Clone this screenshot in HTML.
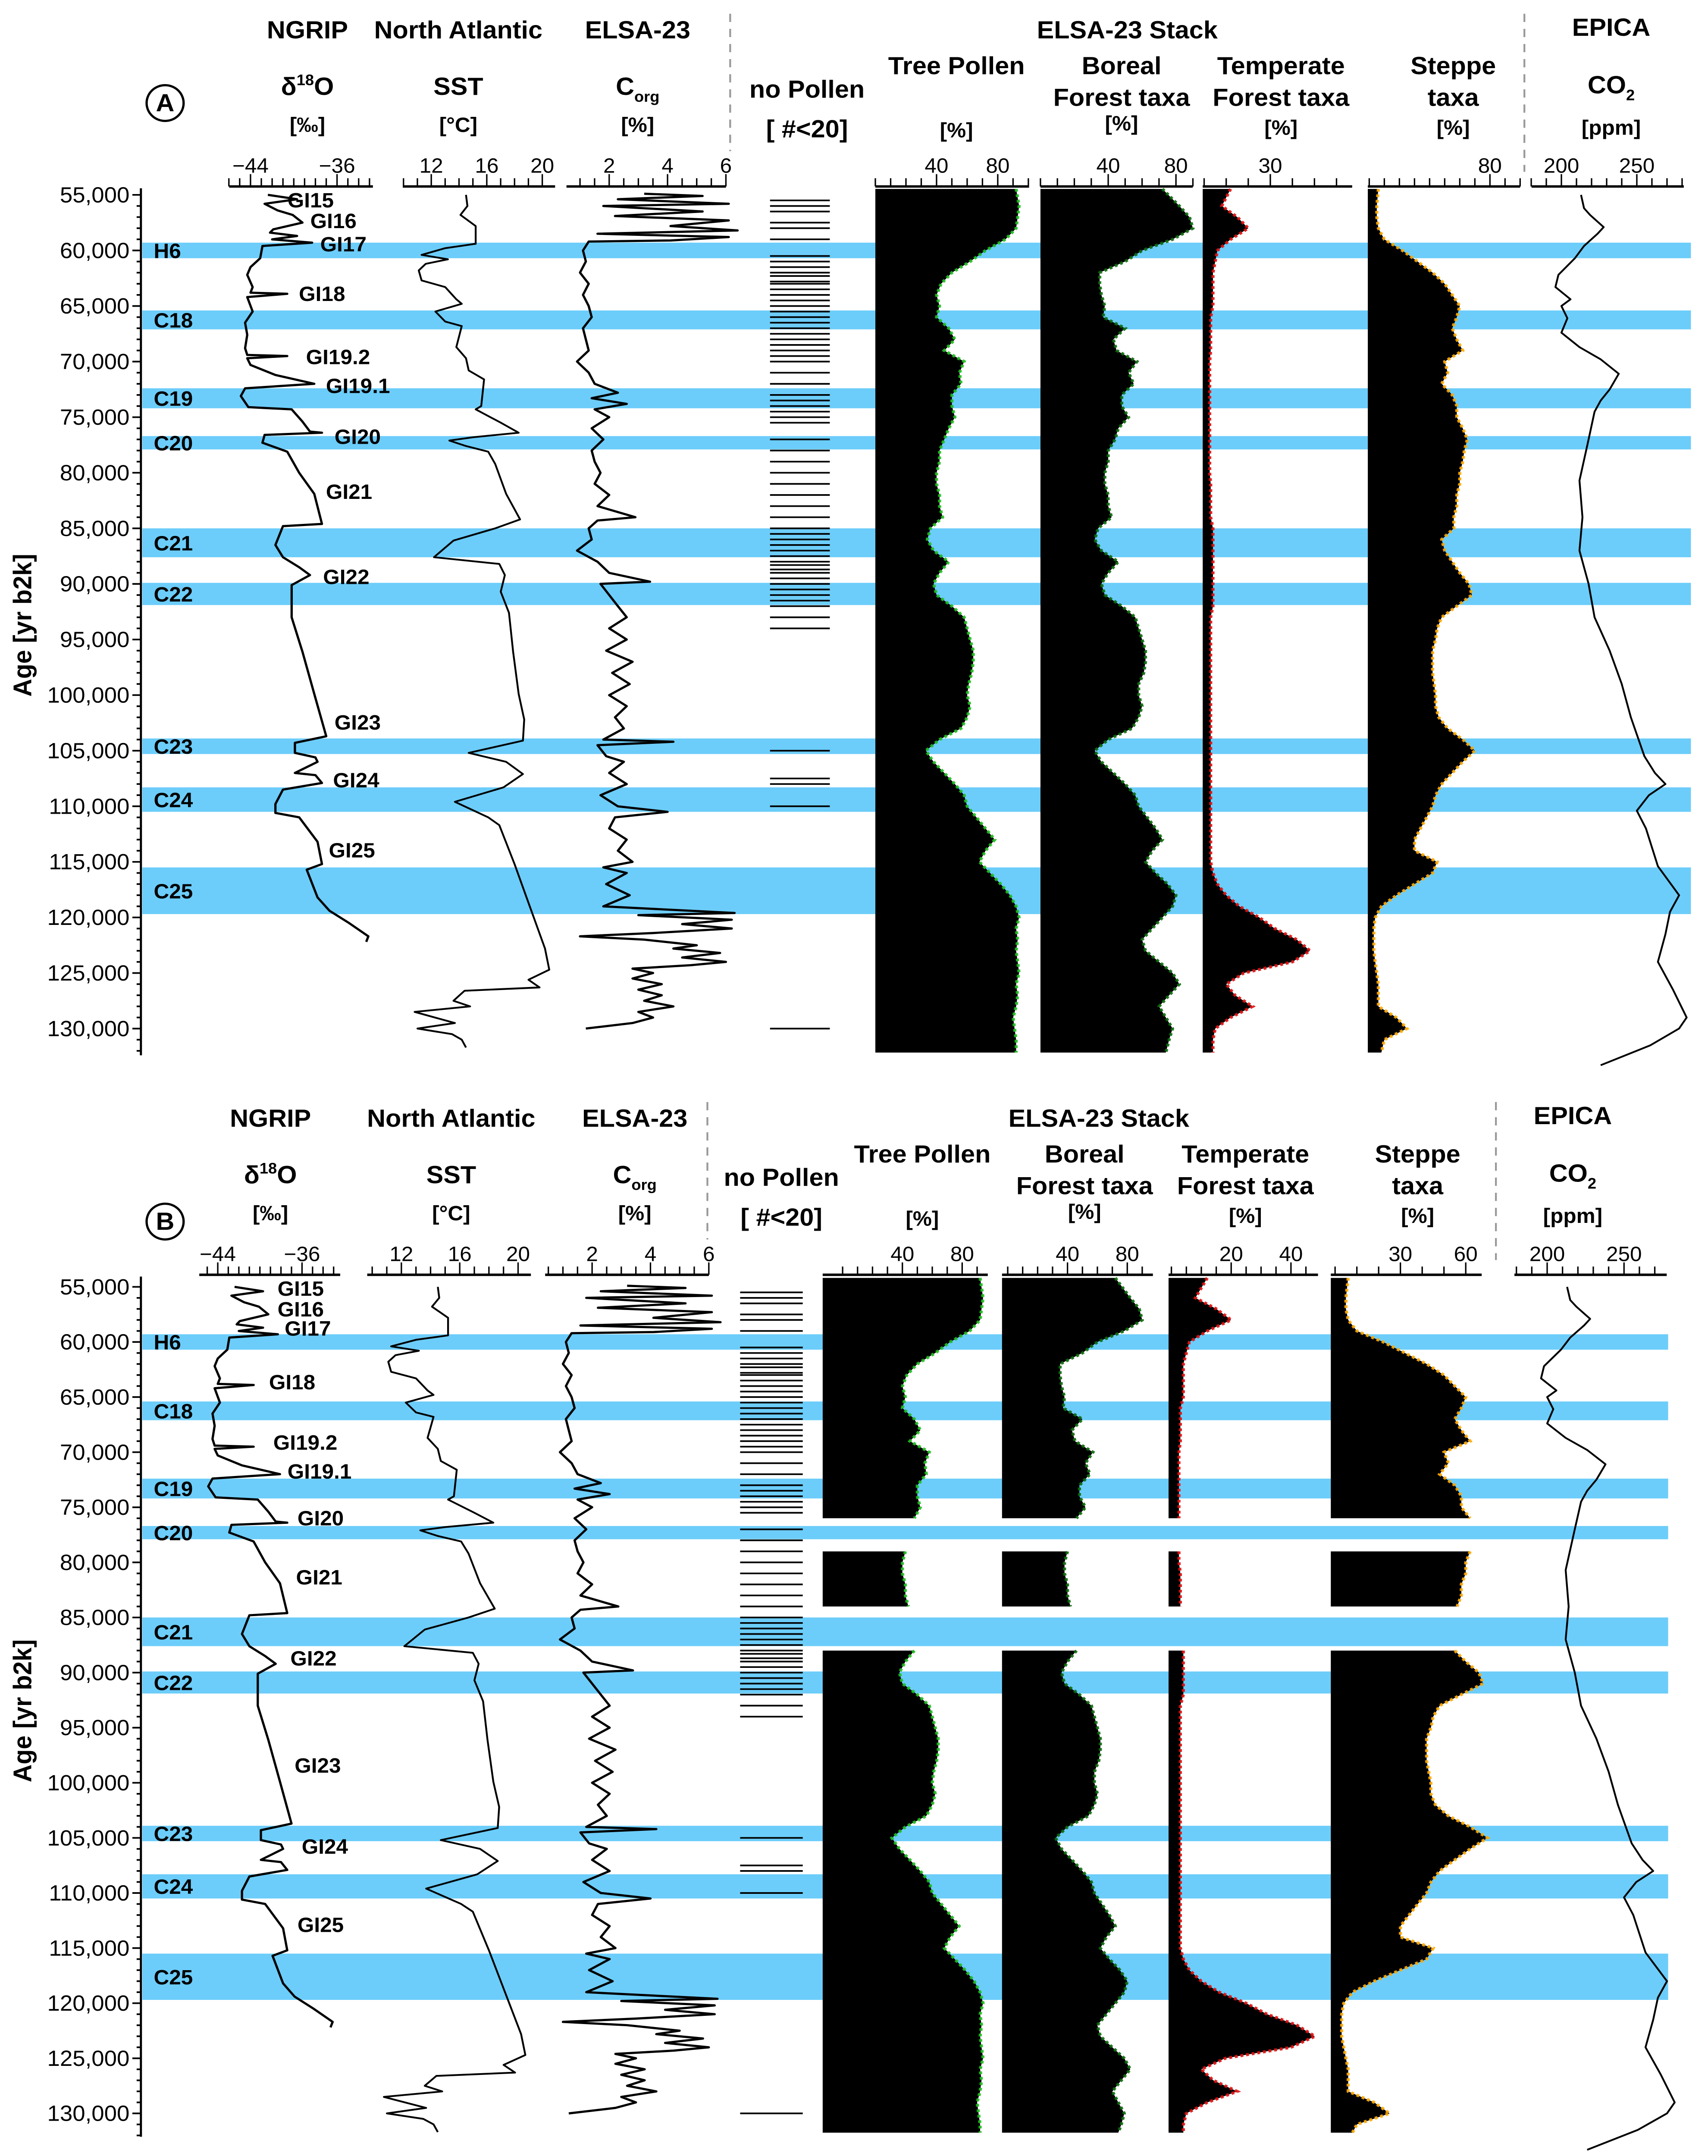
<!DOCTYPE html>
<html><head><meta charset="utf-8"><title>ELSA-23 stack comparison</title>
<style>
html,body{margin:0;padding:0;background:#fff;width:100vw;height:100vh;overflow:hidden;}
svg{display:block;position:absolute;left:0;top:0;width:100vw;height:100vh;font-family:"Liberation Sans",Arial,sans-serif;}
.h{font-weight:bold;font-size:18px;text-anchor:middle;}
.u{font-weight:bold;font-size:15px;text-anchor:middle;}
.t{font-size:15px;text-anchor:middle;}
.yt{font-size:16px;text-anchor:end;}
.bl{font-weight:bold;font-size:15px;}
</style></head>
<body>
<svg id="fig" viewBox="0 0 1200 1569" preserveAspectRatio="none" xmlns="http://www.w3.org/2000/svg" style="overflow:hidden"></svg>
<script>
// ---------- DATA (ages in kyr b2k) ----------
const ngripAge=[55.0,55.4,55.8,56.4,56.8,57.5,58.1,58.4,58.7,59.0,59.3,59.6,60.7,61.5,62.2,63.3,63.8,63.9,64.2,65.5,66.5,67.6,68.8,69.4,69.5,69.7,70.3,71.2,72.0,72.4,73.1,74.1,74.3,75.4,76.3,76.4,76.6,77.3,78.1,80.0,81.9,84.6,84.8,86.5,87.6,88.5,89.2,90.1,93.0,96.1,99.9,103.7,104.3,105.2,105.6,106.0,107.0,107.2,107.9,108.5,109.8,110.6,111.0,113.2,115.2,115.7,118.2,119.4,120.5,121.7,122.2];
const ngripVal=[-42.4,-39.7,-42.7,-41.5,-40.1,-39.2,-41.9,-42.2,-39.7,-42.0,-38.3,-42.9,-43.1,-44.0,-44.3,-43.8,-44.0,-40.6,-44.3,-43.8,-44.5,-44.3,-44.5,-44.3,-40.6,-44.3,-44.0,-41.7,-38.1,-44.5,-44.9,-44.2,-40.2,-39.2,-38.5,-37.4,-42.7,-42.9,-40.6,-39.5,-38.1,-37.4,-41.0,-41.7,-41.0,-39.5,-38.5,-40.2,-40.2,-39.2,-38.1,-37.0,-39.9,-39.9,-38.0,-37.8,-39.9,-38.0,-37.4,-41.0,-41.7,-41.7,-39.5,-37.8,-37.4,-38.8,-37.8,-36.7,-34.9,-33.1,-33.3];
const sstAge=[55,56,56.8,57.8,59.4,59.8,60.4,60.8,61.2,61.8,62.7,63.3,64.4,64.8,65.5,66.4,66.8,68.7,69.7,70.8,71.6,74.0,74.3,75.5,76.4,76.8,77.1,77.6,78.1,79.2,81.9,84.2,85.0,86.1,87.6,88.2,89.2,90.7,92.6,96.1,99.9,102.2,104.1,105.2,106.0,107.1,108.3,109.6,111.0,111.7,115.2,119.0,122.8,124.7,125.6,126.3,126.6,127.5,128.0,128.5,129.5,130.0,130.5,131.0,131.7];
const sstVal=[14.5,14.6,14.1,15.2,15.2,13.0,11.3,13.2,11.6,11.1,11.3,13.0,13.8,14.2,12.3,13.0,14.2,13.8,14.5,14.7,15.8,15.6,15.2,17.0,18.3,15.0,13.3,14.5,16.1,16.6,17.4,18.4,16.6,13.6,12.2,16.9,17.3,17.0,17.6,17.9,18.3,18.7,18.6,14.7,17.4,18.6,17.2,13.7,16.1,16.9,18.0,19.1,20.2,20.5,19.0,19.8,14.4,13.6,14.8,10.8,13.7,11.0,13.5,14.2,14.5];
const corgAge=[54.9,55.1,55.4,55.8,56.0,56.5,56.9,57.3,57.8,58.2,58.5,58.8,59.1,59.2,60,61,62,63,64,65,66,67,68,69,70,71,72,72.8,73.3,73.8,74.3,75,76,77,78,79,80,81,82,83,84,84.3,85,86,87,88,89,89.8,90,91,92,93,94,95,96,97,98,99,100,101,102,103,104.0,104.2,104.5,105.5,106,107,108,109,110,110.5,111,112,113,114,115,115.5,116,117,118,119,119.6,119.8,120.2,120.6,121,121.4,121.7,122.0,122.5,122.8,123.2,123.6,124.0,124.3,124.6,125,125.5,126,126.5,127,127.5,128,128.5,129,129.5,130];
const corgVal=[3.2,5.2,2.3,6.1,1.8,5.2,2.2,6.1,4.1,6.4,1.6,6.1,4.1,1.3,1.1,1.2,1.0,1.3,1.1,1.3,1.4,1.1,1.2,1.3,0.9,1.3,1.5,2.3,1.4,2.6,1.5,2.0,1.4,1.8,1.4,1.5,1.7,1.5,2.0,1.6,2.9,1.6,1.3,1.4,0.9,1.6,2.0,3.4,1.7,2.0,2.3,2.6,2.0,2.6,1.9,2.8,2.1,2.7,2.0,2.6,2.2,2.5,1.8,4.2,1.6,1.9,2.5,2.0,2.6,1.7,2.3,4.0,2.2,2.0,2.6,2.3,2.8,1.8,2.6,1.9,2.7,1.8,6.3,3.0,6.2,4.5,6.2,3.5,1.0,3.2,5.0,4.2,5.8,4.5,6.0,4.8,2.8,3.5,2.8,3.8,3.0,3.8,3.2,4.2,3.0,3.5,2.8,1.2];
const noPollenAge=[55.5,56,56.5,57.5,58,59,60.5,61,61.5,62,62.3,62.8,63,63.5,64,64.5,65,65.5,66,66.5,67,67.5,68,68.5,69,69.5,70,71,72,73,73.5,74,74.5,75,75.5,77,78,79,80,81,82,83,84,85,85.5,86,86.5,87,87.5,88,88.3,88.7,89,89.5,90,90.5,91,91.5,92,93,94,105,107.5,108,110,130];
const pollenAge=[55,56,57,58,59,60,61,62,63,64,65,66,67,68,69,70,71,72,73,74,75,76,77,78,79,80,81,82,83,84,85,86,87,88,89,90,91,92,93,94,95,96,97,98,99,100,101,102,103,104,105,106,107,108,109,110,111,112,113,114,115,116,117,118,119,120,121,122,123,124,125,126,127,128,129,130,131,132];
const treePollen=[92,94,93,92,85,72,62,50,43,40,42,40,48,52,45,58,55,56,50,50,52,48,45,42,42,40,40,42,42,44,36,34,38,48,42,38,40,50,58,60,62,64,64,63,61,60,62,60,56,42,33,38,45,52,58,60,66,72,78,72,68,75,82,88,92,94,92,93,92,93,94,92,93,92,90,91,92,92];
const borealTaxa=[72,82,88,90,78,60,50,35,35,36,38,37,50,43,45,57,52,55,48,48,52,46,44,40,40,38,38,40,40,42,34,32,36,46,40,36,38,48,56,58,60,62,62,61,58,58,60,58,54,40,32,36,43,50,56,58,63,68,72,66,62,68,75,80,78,72,66,60,62,70,78,82,76,70,74,78,76,74];
const temperateTaxa=[12,8,15,20,12,6,5,4,4,4,4,3,3,3,3,2.5,2.5,2.5,2.5,2.5,2.5,2.5,2.5,2.5,2.5,2.5,3,3,3,3,4,4,4,4,4,4,4,4,3,3,3,3,3,3,3,3,3,3,3,3,3,3,3,3,3,3,3,3,3,3,3,4,6,10,16,25,32,42,48,40,18,10,14,22,12,5,4,4];
const steppeTaxa=[6,5,5,6,10,22,32,42,50,55,60,58,55,58,62,50,52,48,55,58,58,62,65,63,62,60,60,58,58,56,56,48,50,55,60,66,68,58,48,45,44,42,42,42,43,44,44,46,52,62,70,62,55,48,44,42,38,34,30,30,45,42,30,18,8,4,3,3,3,4,5,6,6,6,18,25,10,8];
const co2Age=[55,56.2,56.8,57.9,58.5,59.6,60.7,62.2,63.3,64.4,65,66.1,67.4,68.7,69.8,71.1,72.5,73.5,74.5,77,80.7,84,87,90,93,96,99,102,105.5,107,108,109,110.4,112,115.4,118,119.5,121.5,124,126.5,129,130,131.5,133.3];
const co2Val=[213,215,219,228,224,215,209,198,196,206,200,204,200,212,226,238,232,226,222,218,212,214,212,218,222,232,240,246,255,262,269,258,250,256,264,278,272,269,264,274,283,278,259,226];
const bandNames=["H6","C18","C19","C20","C21","C22","C23","C24","C25"];
const bandStart=[59.3,65.4,72.4,76.7,85.0,89.9,103.9,108.3,115.5];
const bandEnd=[60.7,67.1,74.2,77.9,87.6,91.9,105.3,110.5,119.7];
const ageTicks=[55,60,65,70,75,80,85,90,95,100,105,110,115,120,125,130];

// ---------- helpers ----------
const NS="http://www.w3.org/2000/svg";
const svg=document.getElementById('fig');
function mk(tag,attrs,parent){const e=document.createElementNS(NS,tag);for(const k in attrs)e.setAttribute(k,attrs[k]);(parent||svg).appendChild(e);return e;}
function txt(x,y,cls,s,parent){const e=mk('text',{x:x,y:y,class:cls},parent);e.textContent=s;return e;}

const panels=[
 {id:'a',y0:141.8,k:8.09,dy:0,axisTop:137,axisBot:768,bandR:1188,colTop:137.5,colBot:766,gaps:[],
  cols:{ngrip:{z:-44,zx:176,s:7.6,a0:161,a1:262,tk:[-46,-33,1],lb:[-44,-36]},
        sst:{z:12,zx:303,s:9.75,a0:283,a1:390,tk:[10,21,1],lb:[12,16,20]},
        corg:{z:2,zx:428,s:20.5,a0:398,a1:510,tk:[0.5,6,0.5],lb:[2,4,6]},
        tree:{z:0,zx:615,s:1.075,a0:615,a1:723,tk:[0,100,10],lb:[40,80]},
        boreal:{z:0,zx:731,s:1.19,a0:731,a1:838,tk:[0,90,10],lb:[40,80]},
        temp:{z:0,zx:846,s:1.55,a0:845,a1:950,tk:[0,65,10],lb:[30]},
        steppe:{z:0,zx:962,s:1.06,a0:961,a1:1068,tk:[0,100,10],lb:[80]},
        co2:{z:200,zx:1097,s:1.06,a0:1076,a1:1183,tk:[180,280,10],lb:[200,250]}},
  np:[541,583],dash:[513,1071],
  hx:{ngrip:216,sst:322,corg:448,np:567,stack:792,tree:672,boreal:788,temp:900,steppe:1021,co2:1132},
  circ:[116,75,'A'],ageLbl:[22,455],
  gi:[['GI15',202,151],['GI16',218,166],['GI17',225,183],['GI18',210,219],['GI19.2',215,265],['GI19.1',229,286],['GI20',235,323],['GI21',229,363],['GI22',227,425],['GI23',235,531],['GI24',234,573],['GI25',231,624]]},
 {id:'b',y0:936.5,k:8.02,dy:792,axisTop:929,axisBot:1555,bandR:1172,colTop:930,colBot:1552,gaps:[[76.5,78.1],[84.9,87.8]],
  cols:{ngrip:{z:-44,zx:153,s:7.4,a0:140,a1:239,tk:[-45,-33,1],lb:[-44,-36]},
        sst:{z:12,zx:282,s:10.25,a0:258,a1:373,tk:[10,21,1],lb:[12,16,20]},
        corg:{z:2,zx:416,s:20.5,a0:383,a1:498,tk:[0.5,6,0.5],lb:[2,4,6]},
        tree:{z:0,zx:592,s:1.05,a0:578,a1:694,tk:[0,100,10],lb:[40,80]},
        boreal:{z:0,zx:708,s:1.05,a0:704,a1:810,tk:[0,100,10],lb:[40,80]},
        temp:{z:0,zx:823,s:2.1,a0:821,a1:926,tk:[0,50,5],lb:[20,40]},
        steppe:{z:0,zx:938,s:1.53,a0:935,a1:1041,tk:[0,65,10],lb:[30,60]},
        co2:{z:200,zx:1087,s:1.08,a0:1064,a1:1171,tk:[180,275,10],lb:[200,250]}},
  np:[520,564],dash:[497,1051],
  hx:{ngrip:190,sst:317,corg:446,np:549,stack:772,tree:648,boreal:762,temp:875,steppe:996,co2:1105},
  circ:[116,889,'B'],ageLbl:[22,1245],
  gi:[['GI15',195,943],['GI16',195,958],['GI17',200,972],['GI18',189,1011],['GI19.2',192,1055],['GI19.1',202,1076],['GI20',209,1110],['GI21',208,1153],['GI22',204,1212],['GI23',207,1290],['GI24',212,1349],['GI25',209,1406]]}
];

panels.forEach(P=>{
 const g=mk('g',{});
 
 
 const Y=a=>P.y0+(a-55)*P.k;
 const X=(c,v)=>c.zx+(v-c.z)*c.s;
 const axY=135.7+P.dy;
 bandNames.forEach((n,i)=>{
  const r=mk('rect',{x:100,y:Y(bandStart[i]),width:P.bandR-100,height:Y(bandEnd[i])-Y(bandStart[i]),fill:'#6ccdfa'},g);
  
  
 });
 const ax=mk('g',{},g);
 
 
 mk('line',{x1:99,y1:P.axisTop,x2:99,y2:P.axisBot,stroke:'#000','stroke-width':1.5},ax);
 for(let a=55;a<=132;a++){const big=a%5===0;mk('line',{x1:big?93:96,y1:Y(a),x2:99,y2:Y(a),stroke:'#000','stroke-width':1.2},ax);}
 ageTicks.forEach(a=>{const t=txt(91,Y(a)+5.5,'yt',(a*1000).toLocaleString('en-US'),ax);
  
  });
 const al=txt(0,0,'h','Age [yr b2k]',g);
 al.setAttribute('transform','translate('+P.ageLbl[0]+','+P.ageLbl[1]+') rotate(-90)');
 
 
 Object.keys(P.cols).forEach(key=>{
  const c=P.cols[key];
  const cg=mk('g',{},g);
  
  
  mk('line',{x1:c.a0,y1:axY,x2:c.a1,y2:axY,stroke:'#000','stroke-width':1.8},cg);
  for(let v=c.tk[0];v<=c.tk[1]+1e-6;v+=c.tk[2]){
   const x=X(c,v); if(x<c.a0-0.5||x>c.a1+0.5)continue;
   const big=c.lb.some(l=>Math.abs(l-v)<1e-6);
   mk('line',{x1:x,y1:axY,x2:x,y2:axY-(big?9:6),stroke:'#000','stroke-width':1},cg);
  }
  c.lb.forEach(v=>{const t=txt(X(c,v),axY-10,'t',v<0?'\u2212'+(-v):String(v),cg);
   
   });
 });
 function line(name,ages,vals,c,sw){
  let d='';ages.forEach((a,i)=>{d+=(i?'L':'M')+X(c,vals[i]).toFixed(1)+','+Y(a).toFixed(1);});
  const p=mk('path',{d:d,fill:'none',stroke:'#000','stroke-width':sw,'stroke-linejoin':'round'},g);
  
  
 }
 line('ngrip-d18o-line',ngripAge,ngripVal,P.cols.ngrip,1.6);
 line('sst-line',sstAge,sstVal,P.cols.sst,1.3);
 line('corg-line',corgAge,corgVal,P.cols.corg,1.6);
 line('co2-line',co2Age,co2Val,P.cols.co2,1.3);
 noPollenAge.forEach(a=>{
  const l=mk('line',{x1:P.np[0],y1:Y(a),x2:P.np[1],y2:Y(a),stroke:'#000','stroke-width':1.2},g);
  
  
 });
 function inGap(a){return P.gaps.some(gp=>a>gp[0]&&a<gp[1]);}
 function fill(name,vals,c,edge){
  const segs=[];let cur=[];
  pollenAge.forEach((a,i)=>{if(inGap(a)){if(cur.length)segs.push(cur);cur=[];}else cur.push(i);});
  if(cur.length)segs.push(cur);
  segs.forEach(seg=>{
   let top=Y(pollenAge[seg[0]]),bot=Y(pollenAge[seg[seg.length-1]]);
   if(seg[0]===0)top=P.colTop;
   if(seg[seg.length-1]===pollenAge.length-1)bot=P.colBot;
   let d='M'+c.a0+','+top.toFixed(1);let e='';
   seg.forEach((i,j)=>{let yy=Y(pollenAge[i]);if(j===0)yy=top;if(j===seg.length-1)yy=bot;
    const xx=Math.max(c.a0,X(c,vals[i])).toFixed(1);d+='L'+xx+','+yy.toFixed(1);e+=(j?'L':'M')+xx+','+yy.toFixed(1);});
   d+='L'+c.a0+','+bot.toFixed(1)+'Z';
   const p=mk('path',{d:d,fill:'#000'},g);
   
   
   const q=mk('path',{d:e,fill:'none',stroke:edge,'stroke-width':2.2,'stroke-dasharray':'2 2',opacity:0.9},g);
   
   
  });
 }
 fill('tree-pollen',treePollen,P.cols.tree,'#1fbf1f');
 fill('boreal-forest',borealTaxa,P.cols.boreal,'#0b6b0b');
 fill('temperate-forest',temperateTaxa,P.cols.temp,'#e01010');
 fill('steppe',steppeTaxa,P.cols.steppe,'#ffaa00');
 P.dash.forEach((x,i)=>{const l=mk('line',{x1:x,y1:10+P.dy,x2:x,y2:(i?125:110)+P.dy,stroke:'#999','stroke-width':1.3,'stroke-dasharray':'6 5'},g);
  
  });
 const H=P.hx,o=P.dy;
 const hdr=[['h',H.ngrip,28,'NGRIP'],['u',H.ngrip,96,'[\u2030]'],['h',H.sst,28,'North Atlantic'],['h',H.sst,69,'SST'],['u',H.sst,96,'[\u00B0C]'],
  ['h',H.corg,28,'ELSA-23'],['u',H.corg,96,'[%]'],['h',H.np,71,'no Pollen'],['h',H.np,100,'[ #<20]'],['h',H.stack,28,'ELSA-23 Stack'],
  ['h',H.tree,54,'Tree Pollen'],['u',H.tree,100,'[%]'],['h',H.boreal,54,'Boreal'],['h',H.boreal,77,'Forest taxa'],['u',H.boreal,95,'[%]'],
  ['h',H.temp,54,'Temperate'],['h',H.temp,77,'Forest taxa'],['u',H.temp,98,'[%]'],['h',H.steppe,54,'Steppe'],['h',H.steppe,77,'taxa'],['u',H.steppe,98,'[%]'],
  ['h',H.co2,26,'EPICA'],['u',H.co2,98,'[ppm]']];
 hdr.forEach(h=>{const t=txt(h[1],h[2]+o,h[0],h[3],g);
  
  });
 const d18=mk('text',{x:H.ngrip,y:69+o,class:'h'},g);
 
 
 d18.innerHTML='\u03B4<tspan font-size="11" dy="-7">18</tspan><tspan dy="7">O</tspan>';
 const co=mk('text',{x:H.corg,y:69+o,class:'h'},g);
 
 
 co.innerHTML='C<tspan font-size="11" dy="5">org</tspan>';
 const c2=mk('text',{x:H.co2,y:68+o,class:'h'},g);
 
 
 c2.innerHTML='CO<tspan font-size="11" dy="5">2</tspan>';
 const cc=mk('circle',{cx:P.circ[0],cy:P.circ[1],r:13,fill:'none',stroke:'#000','stroke-width':1.6},g);
 
 
 const ct=txt(P.circ[0],P.circ[1]+6,'h',P.circ[2],g);
 
 
 bandNames.forEach((n,i)=>{const t=txt(108,(Y(bandStart[i])+Y(bandEnd[i]))/2+5.5,'bl',n,g);
  
  });
 P.gi.forEach(q=>{const t=txt(q[1],q[2],'bl',q[0],g);
  
  });
});
</script>
</body></html>
